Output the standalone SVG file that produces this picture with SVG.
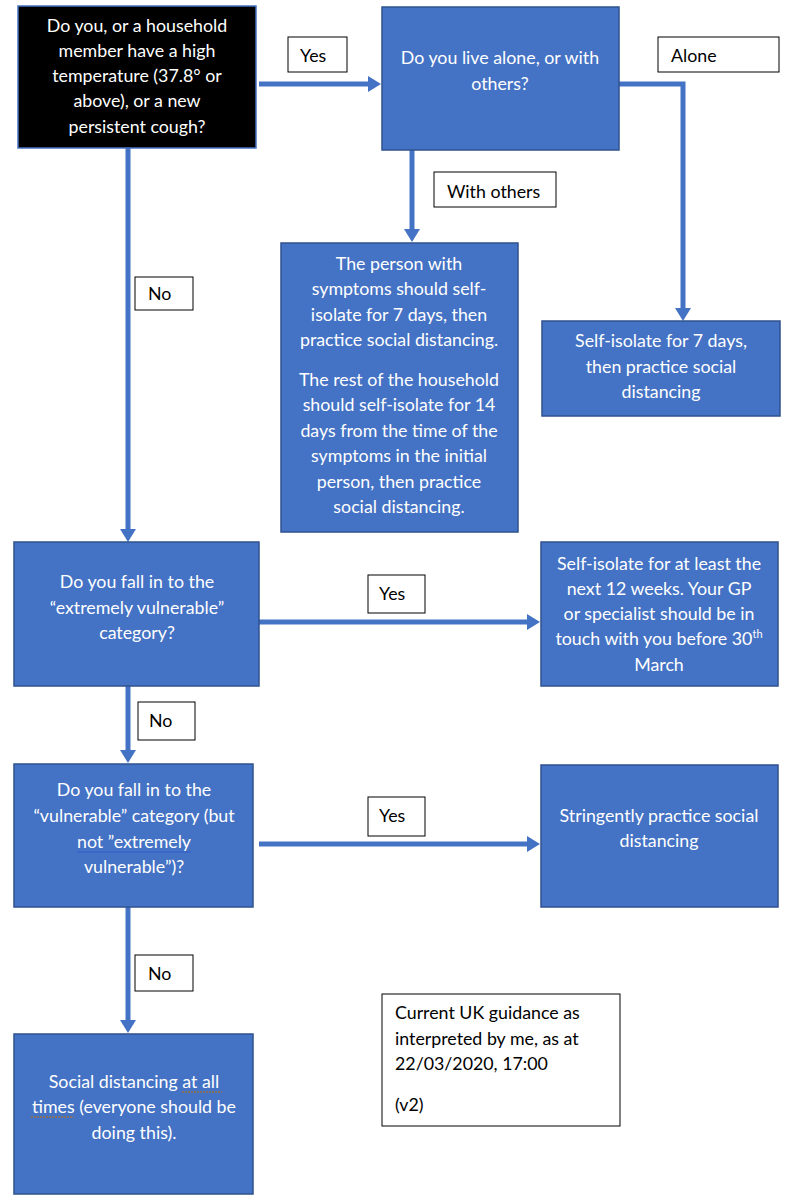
<svg xmlns="http://www.w3.org/2000/svg" width="803" height="1200" viewBox="0 0 803 1200">
<defs>
<style>
.node{fill:#4472C4;stroke:#2F528F;stroke-width:1.5}
.dark{fill:#000;stroke:#4472C4;stroke-width:1.5}
.lab{fill:#fff;stroke:#000;stroke-width:1}
.wt{font-family:Lato,"Liberation Sans",sans-serif;font-size:17.8px;fill:#fff;text-anchor:middle}
.bt{font-family:Lato,"Liberation Sans",sans-serif;font-size:17.8px;fill:#000}
.c{fill:none;stroke:#4472C4;stroke-width:5}
</style>
<marker id="ah" markerUnits="userSpaceOnUse" markerWidth="13" markerHeight="16" refX="0" refY="8" orient="auto">
<path d="M0,0 L13,8 L0,16 z" fill="#4472C4"/>
</marker>
</defs>
<rect width="803" height="1200" fill="#fff"/>

<g id="connectors">
<path class="c" d="M259,84 H368" marker-end="url(#ah)"/>
<path class="c" d="M619,84 H683 V308" marker-end="url(#ah)"/>
<path class="c" d="M412,150 V229" marker-end="url(#ah)"/>
<path class="c" d="M128,148 V529" marker-end="url(#ah)"/>
<path class="c" d="M259,622 H527" marker-end="url(#ah)"/>
<path class="c" d="M128,686 V750" marker-end="url(#ah)"/>
<path class="c" d="M259,844 H527" marker-end="url(#ah)"/>
<path class="c" d="M128,907 V1020" marker-end="url(#ah)"/>
</g>

<g id="lbl-yes1"><rect class="lab" x="288" y="37" width="59" height="35"/><text class="bt" x="300" y="62">Yes</text></g>
<g id="lbl-alone"><rect class="lab" x="658" y="37" width="121" height="35"/><text class="bt" x="671" y="62">Alone</text></g>
<g id="lbl-withothers"><rect class="lab" x="434" y="172" width="122" height="35"/><text class="bt" x="447" y="198">With others</text></g>
<g id="lbl-no1"><rect class="lab" x="135" y="277" width="58" height="33"/><text class="bt" x="148" y="300">No</text></g>
<g id="lbl-yes2"><rect class="lab" x="368" y="575" width="57" height="38"/><text class="bt" x="379" y="600">Yes</text></g>
<g id="lbl-no2"><rect class="lab" x="138" y="702" width="57" height="38"/><text class="bt" x="149" y="727">No</text></g>
<g id="lbl-yes3"><rect class="lab" x="368" y="797" width="57" height="39"/><text class="bt" x="379" y="822">Yes</text></g>
<g id="lbl-no3"><rect class="lab" x="135" y="955" width="58" height="36"/><text class="bt" x="148" y="980">No</text></g>

<g id="q1">
<rect class="dark" x="18" y="6" width="238" height="142"/>
<text class="wt"><tspan x="137" y="32">Do you, or a household</tspan><tspan x="137" y="57">member have a high</tspan><tspan x="137" y="82">temperature (37.8° or</tspan><tspan x="137" y="107">above), or a new</tspan><tspan x="137" y="133">persistent cough?</tspan></text>
</g>

<g id="q2">
<rect class="node" x="382" y="7" width="237" height="143"/>
<text class="wt"><tspan x="500" y="64">Do you live alone, or with</tspan><tspan x="500" y="90">others?</tspan></text>
</g>

<g id="withothers">
<rect class="node" x="281" y="243" width="237" height="289"/>
<text class="wt"><tspan x="399" y="270">The person with</tspan><tspan x="399" y="295">symptoms should self-</tspan><tspan x="399" y="321">isolate for 7 days, then</tspan><tspan x="399" y="346">practice social distancing.</tspan><tspan x="399" y="386">The rest of the household</tspan><tspan x="399" y="411">should self-isolate for 14</tspan><tspan x="399" y="437">days from the time of the</tspan><tspan x="399" y="462">symptoms in the initial</tspan><tspan x="399" y="488">person, then practice</tspan><tspan x="399" y="513">social distancing.</tspan></text>
</g>

<g id="alone">
<rect class="node" x="542" y="321" width="238" height="95"/>
<text class="wt"><tspan x="661" y="347">Self-isolate for 7 days,</tspan><tspan x="661" y="373">then practice social</tspan><tspan x="661" y="398">distancing</tspan></text>
</g>

<g id="q3">
<rect class="node" x="14" y="542" width="245" height="144"/>
<text class="wt"><tspan x="137" y="588">Do you fall in to the</tspan><tspan x="137" y="614">“extremely vulnerable”</tspan><tspan x="137" y="639">category?</tspan></text>
</g>

<g id="extremely">
<rect class="node" x="541" y="542" width="237" height="144"/>
<text class="wt"><tspan x="659" y="570">Self-isolate for at least the</tspan><tspan x="659" y="595">next 12 weeks.  Your GP</tspan><tspan x="659" y="620">or specialist should be in</tspan><tspan x="659" y="645">touch with you before 30<tspan font-size="11" dy="-7">th</tspan></tspan><tspan x="659" y="671">March</tspan></text>
</g>

<g id="q4">
<rect class="node" x="14" y="764" width="239" height="143"/>
<text class="wt"><tspan x="134" y="796">Do you fall in to the</tspan><tspan x="134" y="822">“vulnerable” category (but</tspan><tspan x="134" y="848">not ”extremely</tspan><tspan x="134" y="873">vulnerable”)?</tspan></text>
<line x1="77" y1="852" x2="191" y2="852" stroke="#2F5FD0" stroke-width="1"/>
</g>

<g id="vulnerable">
<rect class="node" x="541" y="765" width="237" height="142"/>
<text class="wt"><tspan x="659" y="822">Stringently practice social</tspan><tspan x="659" y="847">distancing</tspan></text>
</g>

<g id="everyone">
<rect class="node" x="14" y="1034" width="239" height="160"/>
<text class="wt"><tspan x="134" y="1088">Social distancing at all</tspan><tspan x="134" y="1113">times (everyone should be</tspan><tspan x="134" y="1139">doing this).</tspan></text>
<line x1="182" y1="1092" x2="222" y2="1092" stroke="#C07000" stroke-width="1" stroke-dasharray="2,1"/>
<line x1="31" y1="1117" x2="74" y2="1117" stroke="#C07000" stroke-width="1" stroke-dasharray="2,1"/>
</g>

<g id="note">
<rect class="lab" x="382" y="994" width="238" height="132"/>
<text class="bt"><tspan x="395" y="1019">Current UK guidance as</tspan><tspan x="395" y="1045">interpreted by me, as at</tspan><tspan x="395" y="1070">22/03/2020, 17:00</tspan><tspan x="395" y="1111">(v2)</tspan></text>
</g>
</svg>
